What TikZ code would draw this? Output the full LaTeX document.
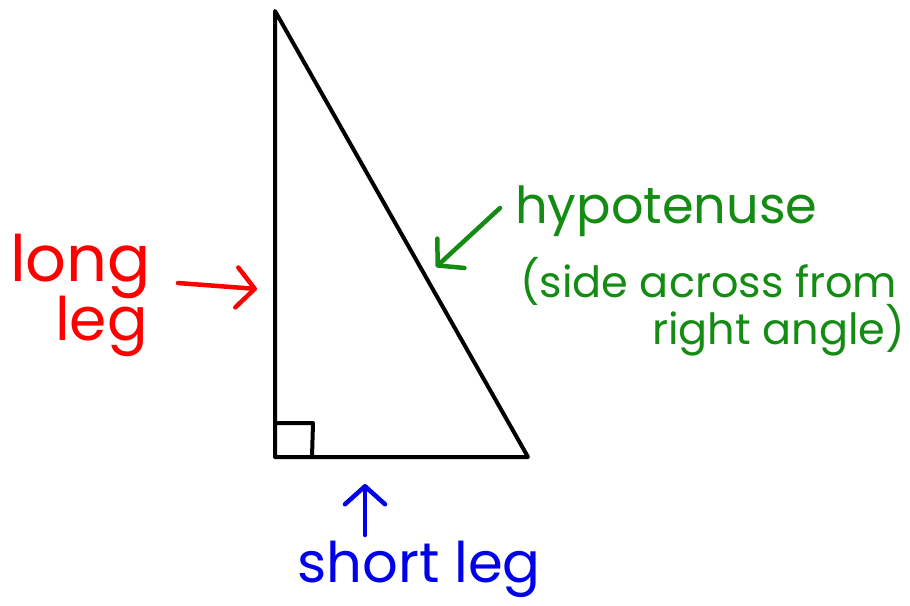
\documentclass[tikz,border=0pt]{standalone}
\usepackage{fontspec}
\setmainfont{Poppins}
\usetikzlibrary{arrows.meta}
\definecolor{penred}{RGB}{255,0,0}
\definecolor{pengreen}{RGB}{20,140,20}
\definecolor{penblue}{RGB}{0,0,235}
\tikzset{
  side/.style={line width=4pt, line cap=round, line join=round, black},
  pointer/.style={line width=4.5pt, line cap=round, line join=round,
    -{Straight Barb[length=18pt, width=40pt, line width=4.5pt, round]}},
  label/.style={inner sep=0pt, anchor=base west},
}
\begin{document}
\begin{tikzpicture}[x=1pt,y=-1pt]
\useasboundingbox (0,0) rectangle (910,605);
% triangle
\coordinate (A) at (275,11);
\coordinate (B) at (275,457);
\coordinate (C) at (528,457);
\draw[side] (A) -- (B) -- (C) -- cycle;
% right angle mark
\coordinate (R1) at (275,423);
\coordinate (R2) at (313,423);
\coordinate (R3) at (312,457);
\draw[side] (R1) -- (R2) -- (R3);
% labels
\node[label, text=penred, font=\fontsize{64}{64}\selectfont] (long) at (10,281) {long};
\node[label, text=penred, font=\fontsize{60}{60}\selectfont] (leg) at (55,340) {leg};
\node[label, text=pengreen, font=\fontsize{51}{51}\selectfont] (hyp) at (515,223) {hypotenuse};
\node[label, text=pengreen, font=\fontsize{43}{43}\selectfont] (side) at (520,297) {(side across from};
\node[label, text=pengreen, font=\fontsize{43}{43}\selectfont] (ra) at (652,344) {right angle)};
\node[label, text=penblue, font=\fontsize{56}{56}\selectfont] (short) at (297,582) {short leg};
% pointers
\coordinate (redtail) at (178,283);
\coordinate (redhead) at (257,289);
\draw[pointer, penred] (redtail) -- (redhead);
\coordinate (greentail) at (500,208);
\coordinate (greenhead) at (436,267);
\draw[pointer, pengreen] (greentail) -- (greenhead);
\coordinate (bluetail) at (365,535);
\coordinate (bluehead) at (365,484);
\draw[pointer, penblue] (bluetail) -- (bluehead);
\end{tikzpicture}
\end{document}
